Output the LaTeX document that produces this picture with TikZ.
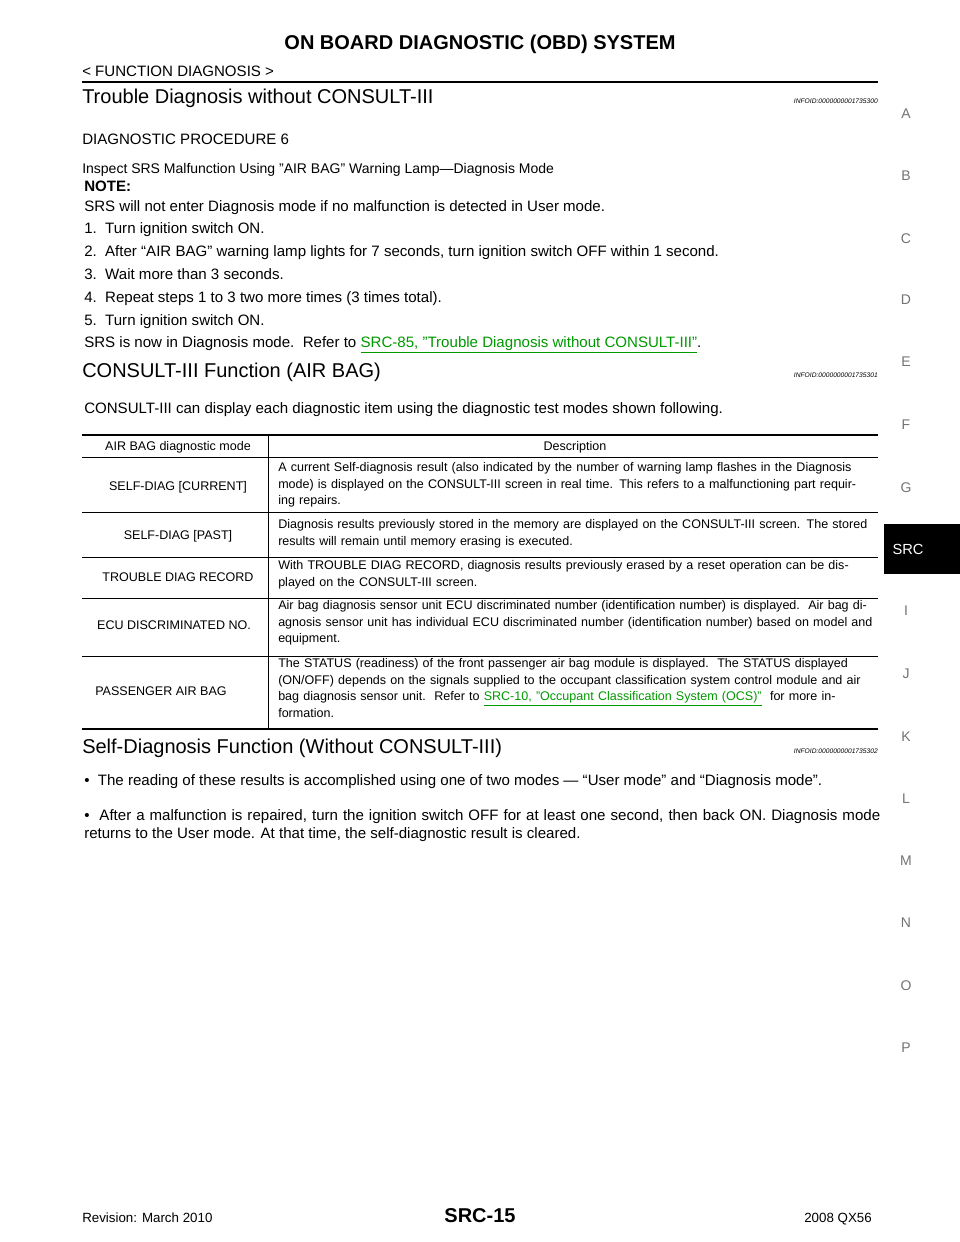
\documentclass[tikz,border=0pt]{standalone}
\usepackage{fontspec}
\setmainfont{Liberation Sans}
\begin{document}
\begin{tikzpicture}[x=0.75pt,y=-0.75pt,
 body/.style={anchor=base west,inner sep=0,font=\fontsize{11.3}{13}\selectfont},
 head/.style={anchor=base west,inner sep=0,font=\fontsize{15}{17}\selectfont},
 tbl/.style={anchor=base west,inner sep=0,font=\fontsize{9.4}{12.6}\selectfont},
 tblc/.style={anchor=center,inner sep=0,font=\fontsize{9.4}{12.6}\selectfont},
 desc/.style={anchor=north west,inner sep=0,align=left,text width=452pt,font=\fontsize{9.4}{12.6}\selectfont},
 inf/.style={anchor=base east,inner sep=0,font=\fontsize{5}{6}\itshape\selectfont},
 tab/.style={anchor=center,inner sep=0,text=black!55,font=\fontsize{10.5}{12}\selectfont},
 lnk/.style={text=green!60!black}]
\useasboundingbox (0,0) rectangle (960,1242);
\fill[white] (0,0) rectangle (960,1242);
\node[anchor=center,font=\fontsize{15}{17}\bfseries\selectfont] (title) at (480,44) {ON BOARD DIAGNOSTIC (OBD) SYSTEM};
\node[anchor=base west,inner sep=0,font=\fontsize{11.3}{13}\selectfont] (sub) at (82,76) {< FUNCTION DIAGNOSIS >};
\draw[line width=1.6pt] (82,82) -- (878,82);
\node[head] (h1) at (82,103) {Trouble Diagnosis without CONSULT-III};
\node[inf] (i1) at (878,103) {INFOID:0000000001735300};
\node[body] (dp) at (82,144) {DIAGNOSTIC PROCEDURE 6};
\node[anchor=base west,inner sep=0,font=\fontsize{10.5}{12}\selectfont] (ins) at (82,173) {Inspect SRS Malfunction Using "AIR BAG" Warning Lamp---Diagnosis Mode};
\node[body,font=\fontsize{11.3}{13}\bfseries\selectfont] (note) at (84,191) {NOTE:};
\node[body] (n1) at (84,211) {SRS will not enter Diagnosis mode if no malfunction is detected in User mode.};
\node[body] (s1) at (84,233) {1.\ \ Turn ignition switch ON.};
\node[body] (s2) at (84,256) {2.\ \ After “AIR BAG” warning lamp lights for 7 seconds, turn ignition switch OFF within 1 second.};
\node[body] (s3) at (84,279) {3.\ \ Wait more than 3 seconds.};
\node[body] (s4) at (84,302) {4.\ \ Repeat steps 1 to 3 two more times (3 times total).};
\node[body] (s5) at (84,325) {5.\ \ Turn ignition switch ON.};
\node[body] (s6) at (84,347) {SRS is now in Diagnosis mode.\ \ Refer to \textcolor{green!60!black}{\underline{SRC-85, "Trouble Diagnosis without CONSULT-III"}}.};
\node[head] (h2) at (82,377) {CONSULT-III Function (AIR BAG)};
\node[inf] (i2) at (878,377) {INFOID:0000000001735301};
\node[body] (c1) at (84,413) {CONSULT-III can display each diagnostic item using the diagnostic test modes shown following.};
% table
\draw[line width=1.2pt] (82,435) -- (878,435);
\draw (82,457) -- (878,457);
\draw (82,512) -- (878,512);
\draw (82,557) -- (878,557);
\draw (82,598) -- (878,598);
\draw (82,656) -- (878,656);
\draw[line width=1.2pt] (82,729) -- (878,729);
\draw (268,435) -- (268,729);
\node[tblc] (th1) at (178,447) {AIR BAG diagnostic mode};
\node[tblc] (th2) at (575,447) {Description};
\node[tblc] (r1) at (178,487) {SELF-DIAG [CURRENT]};
\node[desc] (d1) at (278,462) {A current Self-diagnosis result (also indicated by the number of warning lamp flashes in the Diagnosis mode) is displayed on the CONSULT-III screen in real time. This refers to a malfunctioning part requir-\\ing repairs.};
\node[tblc] (r2) at (178,536) {SELF-DIAG [PAST]};
\node[desc] (d2) at (278,519) {Diagnosis results previously stored in the memory are displayed on the CONSULT-III screen. The stored results will remain until memory erasing is executed.};
\node[tblc] (r3) at (178,577) {TROUBLE DIAG RECORD};
\node[desc] (d3) at (278,560) {With TROUBLE DIAG RECORD, diagnosis results previously erased by a reset operation can be dis-\\played on the CONSULT-III screen.};
\node[tblc] (r4) at (174,625) {ECU DISCRIMINATED NO.};
\node[desc] (d4) at (278,600) {Air bag diagnosis sensor unit ECU discriminated number (identification number) is displayed.\ \ Air bag diagnosis sensor unit has individual ECU discriminated number (identification number) based on model and equipment.};
\node[tblc] (r5) at (161,691) {PASSENGER AIR BAG};
\node[desc] (d5) at (278,658) {The STATUS (readiness) of the front passenger air bag module is displayed.\ \ The STATUS displayed (ON/OFF) depends on the signals supplied to the occupant classification system control module and air bag diagnosis sensor unit.\ \ Refer to \textcolor{green!60!black}{\underline{SRC-10, "Occupant Classification System (OCS)"}}\ \ for more in-\\formation.};
\node[head] (h3) at (82,753) {Self-Diagnosis Function (Without CONSULT-III)};
\node[inf] (i3) at (878,753) {INFOID:0000000001735302};
\node[body,anchor=north west,text width=597pt,align=justify,font=\fontsize{11.3}{13.5}\selectfont] (b1) at (84,774) {\hangindent=9pt\hangafter=1 •\ \ The reading of these results is accomplished using one of two modes --- “User mode” and “Diagnosis mode”.};
\node[body,anchor=north west,text width=597pt,align=justify,font=\fontsize{11.3}{13.5}\selectfont] (b2) at (84,809) {\hangindent=9pt\hangafter=1 •\ \ After a malfunction is repaired, turn the ignition switch OFF for at least one second, then back ON. Diagnosis mode returns to the User mode. At that time, the self-diagnostic result is cleared.};
% side tabs
\node[tab] (ta) at (906,114) {A};
\node[tab] (tb) at (906,176) {B};
\node[tab] (tc) at (906,239) {C};
\node[tab] (td) at (906,300) {D};
\node[tab] (te) at (906,362) {E};
\node[tab] (tf) at (906,425) {F};
\node[tab] (tg) at (906,488) {G};
\fill[black] (884,524) rectangle (960,574);
\node[tab,text=white,font=\fontsize{11}{12}\selectfont] (tsrc) at (908,549) {SRC};
\node[tab] (ti) at (906,611) {I};
\node[tab] (tj) at (906,674) {J};
\node[tab] (tk) at (906,737) {K};
\node[tab] (tl) at (906,799) {L};
\node[tab] (tm) at (906,861) {M};
\node[tab] (tn) at (906,923) {N};
\node[tab] (to) at (906,986) {O};
\node[tab] (tp) at (906,1048) {P};
% footer
\node[anchor=base west,inner sep=0,font=\fontsize{10}{12}\selectfont] (rev) at (82,1222) {Revision: March 2010};
\node[anchor=center,inner sep=0,font=\fontsize{15}{17}\bfseries\selectfont] (pg) at (480,1216) {SRC-15};
\node[anchor=base east,inner sep=0,font=\fontsize{10}{12}\selectfont] (mdl) at (872,1222) {2008 QX56};
\end{tikzpicture}
\end{document}
